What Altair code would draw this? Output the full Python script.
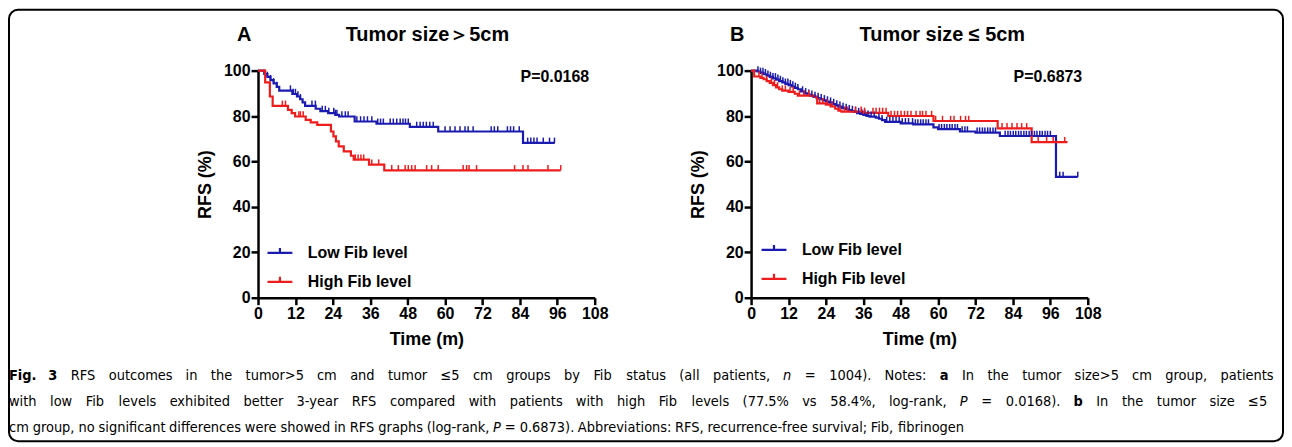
import altair as alt
import pandas as pd

FONT = "Liberation Sans, Arial, sans-serif"
CAP_FONT = "DejaVu Sans Condensed, sans-serif"
BLUE = "#1b1bb0"
RED = "#ee1d1d"
GROUPS = ["Low Fib level", "High Fib level"]
X_TICKS = [0, 12, 24, 36, 48, 60, 72, 84, 96, 108]
Y_TICKS = [0, 20, 40, 60, 80, 100]

# ---------------- Panel A: tumor size > 5 cm ----------------
a_low_time = [0, 2.0, 3.0, 4.0, 5.0, 6.0, 6.8, 11.0, 12.5, 13.5, 14.3, 15.1, 18.5, 20.0,
              22.5, 24.8, 26.0, 31.0, 38.0, 48.7, 57.8, 85.0, 95.2]
a_low_rfs = [100, 98.5, 97.2, 95.8, 94.4, 92.8, 91.2, 89.7, 88.6, 87.4, 86.0, 84.5, 83.2, 82.2,
             81.3, 80.5, 79.8, 77.6, 76.6, 75.2, 73.2, 68.2, 68.2]
a_low_cens = [3.0, 4.0, 5.0, 6.0, 10.4, 11.3, 12.0, 12.8, 13.6, 17.3, 18.4, 20.6, 21.6, 22.7,
              24.3, 24.8, 25.3, 26.9, 28.0, 28.9, 31.7, 32.9, 34.0, 35.1, 36.5, 38.4, 39.3,
              40.2, 42.4, 43.4, 44.5, 45.6, 46.5, 47.3, 48.2, 50.9, 52.0, 53.0, 54.0, 55.1,
              56.2, 60.0, 61.6, 63.2, 64.8, 66.4, 67.4, 69.0, 74.8, 75.8, 76.9, 80.0, 81.0,
              82.0, 83.8, 86.5, 87.5, 88.5, 89.5, 91.5, 93.5, 95.1]
a_high_time = [0, 2.3, 3.8, 4.7, 9.6, 10.8, 11.9, 15.3, 16.9, 19.0, 23.4, 24.2, 25.0, 25.9,
               27.5, 29.8, 30.7, 35.6, 40.5, 97.1]
a_high_rfs = [100, 94.8, 88.6, 84.5, 82.7, 81.3, 79.8, 78.3, 77.2, 76.1, 73.2, 71.0, 68.8, 66.6,
              64.4, 62.5, 60.8, 58.6, 56.1, 56.1]
a_high_cens = [7.8, 8.8, 13.1, 13.6, 14.5, 31.2, 32.1, 33.0, 33.9, 36.5, 38.7, 42.9, 45.0, 47.2,
               48.2, 49.3, 50.4, 54.1, 55.7, 57.8, 65.8, 66.9, 67.7, 70.1, 82.3, 85.0, 86.6,
               93.0, 97.1]

# ---------------- Panel B: tumor size <= 5 cm ----------------
b_low_time = [0, 2, 3, 4, 5, 6, 7, 8, 9, 10, 11, 12, 13, 14, 15, 16, 17, 18, 19, 20, 21, 22,
              23, 24, 25, 26, 27, 28, 29, 30, 31, 32, 33, 34, 35, 36, 37, 38, 40, 41, 42, 43,
              48, 52, 58.5, 60, 67, 72, 79.8, 97.8, 104.8]
b_low_rfs = [100, 99.6, 99.0, 98.4, 97.8, 97.2, 96.6, 96.0, 95.4, 94.8, 94.2, 93.6, 93.0, 92.4,
             91.8, 90.8, 90.0, 89.4, 88.9, 88.4, 87.9, 87.4, 86.9, 86.4, 85.9, 85.3, 84.7, 84.1,
             83.6, 83.1, 82.6, 82.2, 81.8, 81.3, 80.9, 80.5, 80.1, 79.7, 79.3, 78.8, 78.2, 77.4,
             76.8, 76.3, 75.0, 74.2, 73.2, 72.7, 71.2, 53.2, 53.2]
b_low_cens = [2.2, 3.0, 3.8, 4.6, 5.4, 6.2, 7.0, 7.8, 8.6, 9.4, 10.2, 11.0, 11.8, 12.6, 13.4,
              14.2, 15.0, 16.5, 17.5, 18.5, 19.5, 20.5, 21.5, 22.5, 23.5, 24.5, 25.5, 26.5,
              27.5, 28.5, 29.5, 30.5, 31.5, 32.5, 33.5, 34.5, 35.5, 36.5, 37.5, 38.5, 39.5,
              41.0, 42.0, 43.5, 44.5, 45.5, 46.5, 47.5, 48.5, 49.5, 50.5, 51.8, 52.7, 53.5,
              54.4, 55.2, 56.1, 56.9, 60.3, 61.1, 62.0, 62.8, 63.7, 64.5, 65.4, 66.2, 67.7,
              68.6, 69.4, 72.5, 73.3, 74.2, 75.0, 75.9, 76.7, 77.6, 78.4, 81.5, 82.4, 83.2,
              84.1, 84.9, 85.8, 86.6, 87.5, 88.3, 89.2, 90.0, 90.9, 91.7, 92.6, 93.4, 94.3,
              95.1, 96.0, 99.0, 100.1, 104.8]
b_high_time = [0, 1.0, 3, 4, 5, 6, 7, 8, 9, 10, 12, 14, 15, 20.5, 21.2, 24, 25.5, 27, 28, 29,
               36, 44, 58.5, 79.1, 90.0, 101.5]
b_high_rfs = [100, 97.4, 96.8, 96.2, 95.4, 94.6, 93.6, 92.6, 91.8, 91.2, 90.6, 89.8, 89.0, 88.4,
              85.6, 85.0, 84.2, 83.2, 82.4, 81.9, 81.4, 80.0, 77.8, 74.6, 68.5, 68.5]
b_high_cens = [2.5, 3.5, 5.0, 6.5, 7.5, 8.5, 10.0, 11.0, 12.5, 13.5, 15.5, 17.0, 18.5, 22.0,
               23.0, 24.5, 26.0, 28.5, 30.0, 31.0, 33.5, 35.3, 36.4, 39.1, 40.1, 41.2, 42.2,
               43.3, 44.9, 46.0, 47.0, 48.1, 49.2, 50.2, 51.3, 52.9, 54.2, 55.0, 56.1, 57.9,
               59.2, 61.4, 64.0, 65.1, 67.2, 68.8, 69.8, 80.5, 82.1, 83.7, 85.3, 86.8, 88.4,
               92.1, 94.8, 96.9, 100.6]

# ---------------- caption (words; "*" = bold, "_" = italic) ----------------
caption_line1 = ("*Fig.|*3|RFS|outcomes|in|the|tumor>5|cm|and|tumor|\u22645|cm|groups|by|Fib|"
                 "status|(all|patients,|_n|=|1004).|Notes:|*a|In|the|tumor|size>5|cm|group,|patients")
caption_line2 = ("with|low|Fib|levels|exhibited|better|3-year|RFS|compared|with|patients|with|"
                 "high|Fib|levels|(77.5%|vs|58.4%,|log-rank,|_P|=|0.0168).|*b|In|the|tumor|size|\u22645")
caption_line3 = ("cm|group,|no|significant|differences|were|showed|in|RFS|graphs|(log-rank,|_P|=|"
                 "0.6873).|Abbreviations:|RFS,|recurrence-free|survival;|Fib,|fibrinogen")

# approximate advance widths (em) of DejaVu Sans, used only to spread the caption words
W = {" ": .318, "(": .390, ")": .390, ",": .318, ".": .318, "-": .361, ":": .337, ";": .337,
     "%": .950, ">": .838, "=": .838, "\u2264": .838}
W.update({c: .636 for c in "0123456789"})
W.update(dict(zip("ABCDEFGHIJKLMNOPQRSTUVWXYZ",
                  [.684, .686, .698, .770, .632, .575, .775, .752, .295, .295, .656, .557, .863,
                   .748, .787, .603, .787, .695, .635, .611, .732, .684, .989, .685, .611, .685])))
W.update(dict(zip("abcdefghijklmnopqrstuvwxyz",
                  [.613, .635, .550, .635, .615, .352, .635, .634, .278, .278, .579, .278, .974,
                   .634, .612, .635, .635, .411, .521, .392, .634, .592, .818, .592, .592, .525])))
COND = 0.89


def word_width(w, size, bold):
    return sum(W.get(c, .6) for c in w) * size * COND * (1.1 if bold else 1.0)


def step_value(times, vals, t):
    v = vals[0]
    for ti, vi in zip(times, vals):
        if ti <= t:
            v = vi
        else:
            break
    return v


def frames(low_t, low_s, low_c, high_t, high_s, high_c):
    curve = pd.DataFrame(
        {"t": low_t + high_t, "s": low_s + high_s,
         "g": [GROUPS[0]] * len(low_t) + [GROUPS[1]] * len(high_t)})
    cens = pd.DataFrame(
        {"t": low_c + high_c,
         "s": [step_value(low_t, low_s, c) for c in low_c] + [step_value(high_t, high_s, c) for c in high_c],
         "g": [GROUPS[0]] * len(low_c) + [GROUPS[1]] * len(high_c)})
    return curve, cens


def one():
    return alt.Data(values=[{"k": 1}])


def txt(text, x, y, size, weight="bold", align="center", font=FONT, style="normal"):
    return alt.Chart(one()).mark_text(
        text=text, font=font, fontSize=size, fontWeight=weight, fontStyle=style,
        align=align, baseline="middle", color="black"
    ).encode(x=alt.value(x), y=alt.value(y))


def caption_row(line, x0, x1, y, size):
    words = line.split("|")
    info = []
    for w in words:
        bold = w.startswith("*")
        ital = w.startswith("_")
        t = w[1:] if (bold or ital) else w
        info.append((t, bold, ital, word_width(t, size, bold)))
    total = sum(i[3] for i in info)
    if x1 is None:
        gap = W[" "] * size * COND
    else:
        gap = (x1 - x0 - total) / (len(info) - 1)
    out = []
    x = x0
    for t, bold, ital, wd in info:
        out.append(txt(t, x, y, size, "bold" if bold else "normal", "left", CAP_FONT,
                       "italic" if ital else "normal"))
        x += wd + gap
    return out


def panel(curve, cens, letter, title, title_x, pval, leg_x, leg_y):
    xs = alt.Scale(domain=[0, 108], nice=False, zero=False)
    ys = alt.Scale(domain=[0, 100], nice=False)
    xax = alt.Axis(values=X_TICKS, title="Time (m)", labelOverlap=False, tickCount=10)
    yax = alt.Axis(values=Y_TICKS, title="RFS (%)", labelOverlap=False)
    color = alt.Color(
        "g:N", scale=alt.Scale(domain=GROUPS, range=[BLUE, RED]),
        legend=alt.Legend(
            orient="none", legendX=leg_x, legendY=leg_y, title=None,
            symbolType="M-1,0L1,0M0,0L0,-0.4", symbolSize=625, symbolStrokeWidth=2.2,
            labelFont=FONT, labelFontSize=16, labelFontWeight="bold", labelColor="black",
            labelOffset=14, rowPadding=7, padding=0))
    lines = alt.Chart(curve).mark_line(interpolate="step-after", strokeWidth=2.2).encode(
        x=alt.X("t:Q", scale=xs, axis=xax),
        y=alt.Y("s:Q", scale=ys, axis=yax),
        color=color, detail="g:N")
    ticks = alt.Chart(cens).transform_calculate(top="datum.s + 2.3").mark_rule(
        strokeWidth=1.5).encode(x=alt.X("t:Q", scale=xs, axis=xax),
                                y=alt.Y("s:Q", scale=ys, axis=yax), y2="top:Q", color=color)
    layers = [lines, ticks,
              txt(letter, -14, -36, 20),
              txt(title, title_x, -36, 20),
              txt(pval, 298, 6, 16)]
    return layers


ca, cc = frames(a_low_time, a_low_rfs, a_low_cens, a_high_time, a_high_rfs, a_high_cens)
cb, cbc = frames(b_low_time, b_low_rfs, b_low_cens, b_high_time, b_high_rfs, b_high_cens)

layers_a = panel(ca, cc, "A", "Tumor size\uff1e5cm", 170, "P=0.0168", 8, 169)
layers_b = panel(cb, cbc, "B", "Tumor size \u2264  5cm", 192, "P=0.6873", 9, 166)

border = alt.Chart(one()).mark_rect(
    fill="transparent", stroke="black", strokeWidth=2, cornerRadius=9
).encode(x=alt.value(-250), x2=alt.value(1029), y=alt.value(-61), y2=alt.value(372))

CAP = 14.5
caption = (caption_row(caption_line1, -250, 1019, 307, CAP)
           + caption_row(caption_line2, -250, 1013, 333, CAP)
           + caption_row(caption_line3, -250, None, 359, CAP))

chart_a = alt.layer(*(layers_a + [border] + caption)).properties(width=338, height=228)
chart_b = alt.layer(*layers_b).properties(width=338, height=228)

chart = alt.hconcat(
    chart_a, chart_b, spacing=157, bounds="flush", padding=0, background="white"
).resolve_scale(color="independent").resolve_legend(color="independent").configure_view(
    stroke=None).configure_axis(
    grid=False, domainColor="black", domainWidth=2.5, tickColor="black", tickWidth=2.5,
    tickSize=7, labelFont=FONT, labelFontSize=16, labelFontWeight="bold", labelColor="black",
    labelPadding=1, titleFont=FONT, titleFontSize=18, titleFontWeight="bold",
    titleColor="black", titlePadding=9, labelFlush=False, labelOverlap=False
)

chart.save("out.html", embed_options={"renderer": "svg", "actions": False})
